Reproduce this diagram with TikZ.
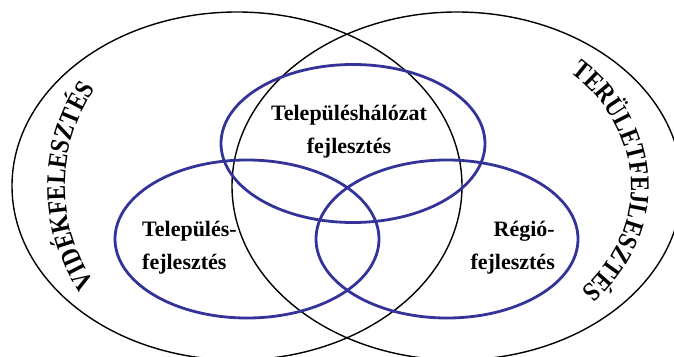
\documentclass[tikz,border=0pt]{standalone}
\usepackage{fontspec}
\setmainfont{Liberation Serif}
\newfontfamily\titlefont{Liberation Serif}[FakeStretch=0.85]
\usetikzlibrary{decorations.text}
\definecolor{ringblue}{RGB}{51, 51, 153}

\begin{document}
\begin{tikzpicture}[x=1pt, y=1pt,
  bigring/.style={draw=black, line width=1.4pt},
  bluering/.style={draw=ringblue, line width=2.8pt},
  lbl/.style={font=\fontsize{22}{33}\selectfont\bfseries, inner sep=0pt},
  arctext/.style={decorate, decoration={text along path, text align=center, text={|\titlefont\fontsize{27}{27}\selectfont\bfseries|#1}}}
]
  \useasboundingbox (0,0) rectangle (674,356);
  \clip (0,0) rectangle (674,356);

  % Outer rings
  \draw[bigring] (237,170) ellipse [x radius=225pt, y radius=174pt];
  \draw[bigring] (457,170) ellipse [x radius=225pt, y radius=174pt];

  % Inner rings
  \draw[bluering] (353,212.5) ellipse [x radius=132pt, y radius=79pt];
  \draw[bluering] (247,117) ellipse [x radius=132pt, y radius=79pt];
  \draw[bluering] (447,117) ellipse [x radius=131pt, y radius=79pt];

  % Labels
  \node[lbl, align=center] (halozat) at (349,224) {Településhálózat\\fejlesztés};
  \node[lbl, align=left, anchor=west] (telepules) at (142,108) {Település-\\fejlesztés};
  \node[lbl, align=right, anchor=east] (regio) at (555,108) {Régió-\\fejlesztés};

  % Curved titles
  \path[arctext=VIDÉKFELESZTÉS] (237,170) ++(219:172pt and 172pt)
    arc [start angle=219, end angle=141, x radius=172pt, y radius=172pt];
  \path[arctext=TERÜLETFEJLESZTÉS] (457,170) ++(55:174pt and 149pt)
    arc [start angle=55, end angle=-50, x radius=174pt, y radius=149pt];
\end{tikzpicture}
\end{document}
